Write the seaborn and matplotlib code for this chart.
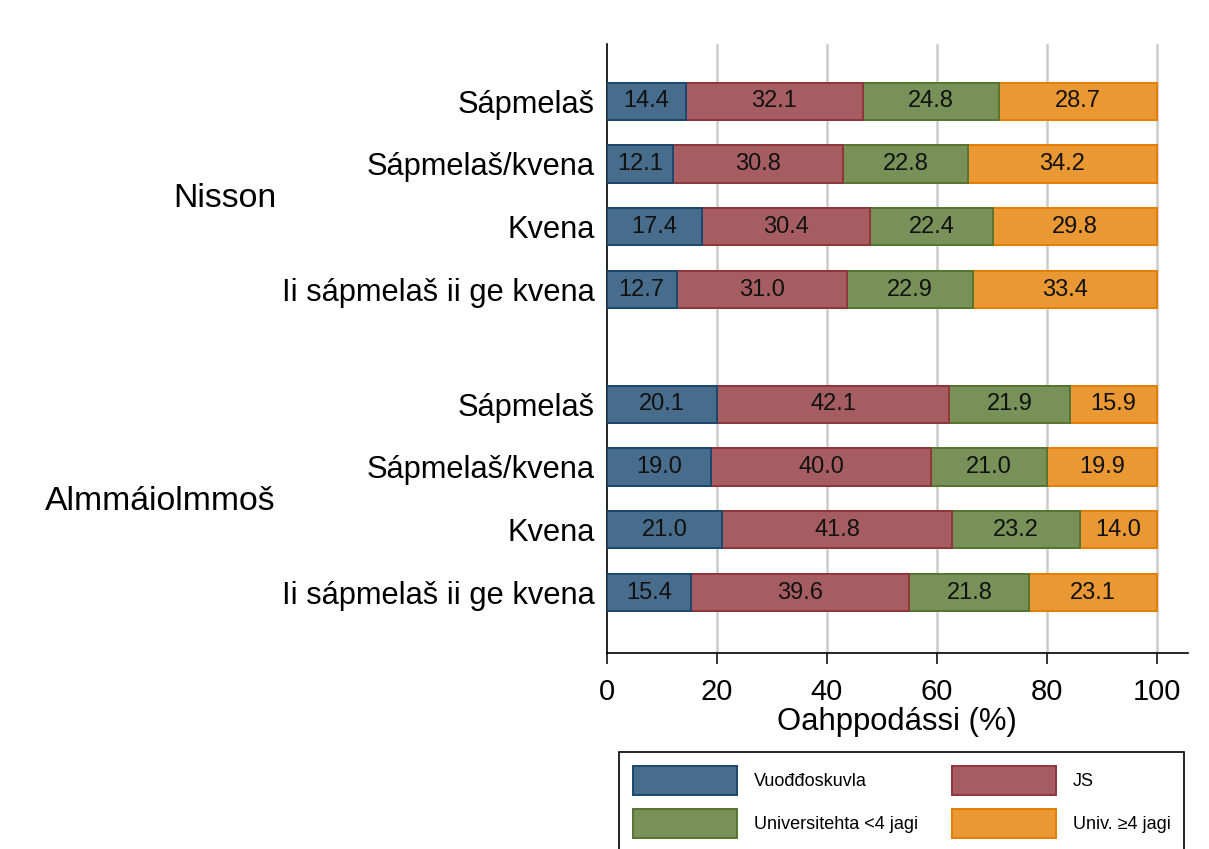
import pandas as pd
import matplotlib
matplotlib.use("Agg")
import matplotlib.pyplot as plt
import matplotlib.patches as mpatches
import matplotlib.transforms as mtransforms
import seaborn as sns

# data (percent)
groups = ["Nisson", "Almmáiolmmoš"]
rows = ["Sápmelaš", "Sápmelaš/kvena", "Kvena", "Ii sápmelaš ii ge kvena"]
categories = ["Vuođđoskuvla", "JS", "Universitehta <4 jagi", "Univ. ≥4 jagi"]

vuoddoskuvla = [14.4, 12.1, 17.4, 12.7, 20.1, 19.0, 21.0, 15.4]
js = [32.1, 30.8, 30.4, 31.0, 42.1, 40.0, 41.8, 39.6]
univ_lt4 = [24.8, 22.8, 22.4, 22.9, 21.9, 21.0, 23.2, 21.8]
univ_ge4 = [28.7, 34.2, 29.8, 33.4, 15.9, 19.9, 14.0, 23.1]

# Stata s2color style fills + darker outlines
fills = ["#486c8c", "#a65d62", "#779159", "#e99833"]
edges = ["#1a476f", "#90353b", "#55752f", "#e37e00"]

GROUP_GAP = 0.82

# build long table
positions = []
for g in range(len(groups)):
    for r in range(len(rows)):
        positions.append(g * (len(rows) + GROUP_GAP) + r)

records = []
series = [vuoddoskuvla, js, univ_lt4, univ_ge4]
for i, pos in enumerate(positions):
    cum = 0.0
    for cat, vals in zip(categories, series):
        cum += vals[i]
        records.append({"pos": pos, "row": rows[i % len(rows)],
                        "category": cat, "value": vals[i], "cum": cum})
df = pd.DataFrame(records)

sns.set_style("white")
plt.rcParams["font.family"] = ["Liberation Sans", "DejaVu Sans"]
plt.rcParams["text.color"] = "black"
plt.rcParams["axes.labelcolor"] = "black"
plt.rcParams["xtick.color"] = "black"
plt.rcParams["ytick.color"] = "black"

fig = plt.figure(figsize=(12.09, 8.49), dpi=100)
ax = fig.add_axes([0.5018, 0.2312, 0.9826 - 0.5018, 0.9482 - 0.2312])

# stacked bars: draw cumulative totals from the outside in
for cat, fc, ec in reversed(list(zip(categories, fills, edges))):
    sub = df[df["category"] == cat]
    sns.barplot(data=sub, x="cum", y="pos", orient="h", native_scale=True,
                width=0.59, color=fc, edgecolor=ec, linewidth=1.4,
                saturation=1, errorbar=None, ax=ax, zorder=3)

for _, r in df.iterrows():
    ax.text(r["cum"] - r["value"] / 2, r["pos"], f"{r['value']:.1f}",
            ha="center", va="center", fontsize=17, color="#111111", zorder=4)

ax.set_xlim(0, 105.6)
ax.set_ylim(positions[-1] + 0.955, -0.909)
ax.set_xticks([0, 20, 40, 60, 80, 100])
ax.set_yticks(positions)
ax.set_yticklabels([rows[i % len(rows)] for i in range(len(positions))])
ax.tick_params(axis="y", length=0, pad=8.5, labelsize=22.2)
ax.tick_params(axis="x", length=8, width=1.1, pad=10, labelsize=21,
               direction="out", bottom=True)
ax.set_xlabel("Oahppodássi (%)", fontsize=22.3, labelpad=1)
ax.set_ylabel("")

for x in [20, 40, 60, 80, 100]:
    ax.axvline(x, color="#cccccc", linewidth=1.8, zorder=1)

sns.despine(ax=ax, top=True, right=True)
for side in ["left", "bottom"]:
    ax.spines[side].set_linewidth(1.2)
    ax.spines[side].set_color("black")

# group labels to the left of the row labels
trans = mtransforms.blended_transform_factory(fig.transFigure, ax.transData)
for g, name in enumerate(groups):
    ymid = (positions[g * len(rows)] + positions[g * len(rows) + len(rows) - 1]) / 2
    ax.text(276 / 1209, ymid, name, transform=trans, ha="right",
            va="center_baseline", fontsize=24.3)

# legend filled row by row like the original
order = [0, 2, 1, 3]
handles = [mpatches.Patch(facecolor=fills[i], edgecolor=edges[i],
                          linewidth=1.4, label=categories[i]) for i in order]
leg = fig.legend(handles=handles, loc="upper left", ncol=2,
                 bbox_to_anchor=(619 / 1209, 1 - 752 / 849),
                 fontsize=13, handlelength=5.76, handleheight=2.1,
                 handletextpad=0.94, columnspacing=1.9, labelspacing=0.8,
                 borderpad=0.75, borderaxespad=0, fancybox=False,
                 framealpha=1)
leg.get_frame().set_edgecolor("black")
leg.get_frame().set_linewidth(1.2)

fig.savefig("out.png", dpi=100)
